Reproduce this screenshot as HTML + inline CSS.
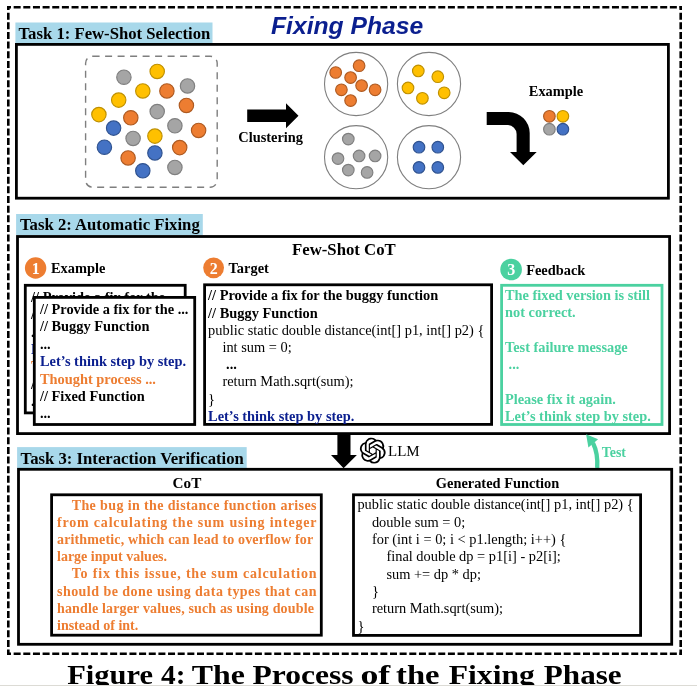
<!DOCTYPE html>
<html><head><meta charset="utf-8"><style>
html,body{margin:0;padding:0;background:#fff;width:697px;height:686px;overflow:hidden;}
svg{display:block;will-change:transform;}
</style></head><body>
<svg width="697" height="686" viewBox="0 0 697 686">
<rect width="697" height="686" fill="#fff"/>
<line x1="7" y1="7.3" x2="682" y2="7.3" stroke="#000" stroke-width="2.6" stroke-dasharray="7 2.65" stroke-dashoffset="3"/>
<line x1="7" y1="653.7" x2="682" y2="653.7" stroke="#000" stroke-width="2.6" stroke-dasharray="7 2.65" stroke-dashoffset="3"/>
<line x1="8.3" y1="6" x2="8.3" y2="655" stroke="#000" stroke-width="2.6" stroke-dasharray="7 2.65" stroke-dashoffset="3"/>
<line x1="680.7" y1="6" x2="680.7" y2="655" stroke="#000" stroke-width="2.6" stroke-dasharray="7 2.65" stroke-dashoffset="3"/>
<text x="271" y="33.8" font-family="'Liberation Sans', sans-serif" font-size="24.7" font-weight="bold" fill="#0b1f8f" font-style="italic" xml:space="preserve">Fixing Phase</text>
<rect x="15.4" y="22.5" width="197.1" height="20.8" fill="#a8d8ea"/>
<text x="18.5" y="38.5" font-family="'Liberation Serif', serif" font-size="16.7" font-weight="bold" fill="#000"  xml:space="preserve">Task 1: Few-Shot Selection</text>
<rect x="16.40" y="44.40" width="652.00" height="153.80" fill="none" stroke="#000" stroke-width="2.8" />
<rect x="85.6" y="56.2" width="131.6" height="131" rx="7" fill="none" stroke="#7f7f7f" stroke-width="1.4" stroke-dasharray="7 5.5"/>
<circle cx="123.9" cy="77.2" r="7.2" fill="#a5a5a5" stroke="#7f7f7f" stroke-width="1.15"/>
<circle cx="187.5" cy="85.9" r="7.2" fill="#a5a5a5" stroke="#7f7f7f" stroke-width="1.15"/>
<circle cx="157.2" cy="111.6" r="7.2" fill="#a5a5a5" stroke="#7f7f7f" stroke-width="1.15"/>
<circle cx="174.9" cy="125.8" r="7.2" fill="#a5a5a5" stroke="#7f7f7f" stroke-width="1.15"/>
<circle cx="133.1" cy="138.4" r="7.2" fill="#a5a5a5" stroke="#7f7f7f" stroke-width="1.15"/>
<circle cx="174.9" cy="167.4" r="7.2" fill="#a5a5a5" stroke="#7f7f7f" stroke-width="1.15"/>
<circle cx="157.2" cy="71.4" r="7.2" fill="#ffc000" stroke="#bf9000" stroke-width="1.15"/>
<circle cx="142.8" cy="90.9" r="7.2" fill="#ffc000" stroke="#bf9000" stroke-width="1.15"/>
<circle cx="118.7" cy="100.1" r="7.2" fill="#ffc000" stroke="#bf9000" stroke-width="1.15"/>
<circle cx="98.9" cy="114.6" r="7.2" fill="#ffc000" stroke="#bf9000" stroke-width="1.15"/>
<circle cx="154.9" cy="136.1" r="7.2" fill="#ffc000" stroke="#bf9000" stroke-width="1.15"/>
<circle cx="166.9" cy="90.9" r="7.2" fill="#ed7d31" stroke="#ae5a21" stroke-width="1.15"/>
<circle cx="186.4" cy="105.4" r="7.2" fill="#ed7d31" stroke="#ae5a21" stroke-width="1.15"/>
<circle cx="130.8" cy="117.8" r="7.2" fill="#ed7d31" stroke="#ae5a21" stroke-width="1.15"/>
<circle cx="198.6" cy="130.4" r="7.2" fill="#ed7d31" stroke="#ae5a21" stroke-width="1.15"/>
<circle cx="179.7" cy="147.6" r="7.2" fill="#ed7d31" stroke="#ae5a21" stroke-width="1.15"/>
<circle cx="128.1" cy="157.9" r="7.2" fill="#ed7d31" stroke="#ae5a21" stroke-width="1.15"/>
<circle cx="113.6" cy="128.1" r="7.2" fill="#4472c4" stroke="#2f528f" stroke-width="1.15"/>
<circle cx="104.4" cy="147.2" r="7.2" fill="#4472c4" stroke="#2f528f" stroke-width="1.15"/>
<circle cx="154.9" cy="152.9" r="7.2" fill="#4472c4" stroke="#2f528f" stroke-width="1.15"/>
<circle cx="142.8" cy="170.8" r="7.2" fill="#4472c4" stroke="#2f528f" stroke-width="1.15"/>
<polygon points="247.2,109.4 286,109.4 286,103.2 298.5,115.7 286,128.3 286,121.9 247.2,121.9" fill="#000"/>
<text x="238.3" y="142.4" font-family="'Liberation Serif', serif" font-size="14.4" font-weight="bold" fill="#000"  xml:space="preserve">Clustering</text>
<circle cx="356.1" cy="84" r="31.6" fill="#fff" stroke="#7f7f7f" stroke-width="1.1"/>
<circle cx="429" cy="84" r="31.6" fill="#fff" stroke="#7f7f7f" stroke-width="1.1"/>
<circle cx="356.1" cy="157.2" r="31.6" fill="#fff" stroke="#7f7f7f" stroke-width="1.1"/>
<circle cx="429" cy="157.2" r="31.6" fill="#fff" stroke="#7f7f7f" stroke-width="1.1"/>
<circle cx="335.7" cy="72.5" r="5.8" fill="#ed7d31" stroke="#ae5a21" stroke-width="1.15"/>
<circle cx="359.1" cy="65.7" r="5.8" fill="#ed7d31" stroke="#ae5a21" stroke-width="1.15"/>
<circle cx="350.6" cy="77.6" r="5.8" fill="#ed7d31" stroke="#ae5a21" stroke-width="1.15"/>
<circle cx="341.4" cy="89.8" r="5.8" fill="#ed7d31" stroke="#ae5a21" stroke-width="1.15"/>
<circle cx="361.6" cy="85.6" r="5.8" fill="#ed7d31" stroke="#ae5a21" stroke-width="1.15"/>
<circle cx="375.1" cy="89.8" r="5.8" fill="#ed7d31" stroke="#ae5a21" stroke-width="1.15"/>
<circle cx="350.6" cy="100.6" r="5.8" fill="#ed7d31" stroke="#ae5a21" stroke-width="1.15"/>
<circle cx="418.3" cy="70.9" r="5.8" fill="#ffc000" stroke="#bf9000" stroke-width="1.15"/>
<circle cx="437.8" cy="76.7" r="5.8" fill="#ffc000" stroke="#bf9000" stroke-width="1.15"/>
<circle cx="408" cy="87.9" r="5.8" fill="#ffc000" stroke="#bf9000" stroke-width="1.15"/>
<circle cx="444.2" cy="92.8" r="5.8" fill="#ffc000" stroke="#bf9000" stroke-width="1.15"/>
<circle cx="422.4" cy="98.3" r="5.8" fill="#ffc000" stroke="#bf9000" stroke-width="1.15"/>
<circle cx="348.3" cy="139.1" r="5.8" fill="#a5a5a5" stroke="#7f7f7f" stroke-width="1.15"/>
<circle cx="338" cy="158.6" r="5.8" fill="#a5a5a5" stroke="#7f7f7f" stroke-width="1.15"/>
<circle cx="359.1" cy="155.9" r="5.8" fill="#a5a5a5" stroke="#7f7f7f" stroke-width="1.15"/>
<circle cx="375.1" cy="155.9" r="5.8" fill="#a5a5a5" stroke="#7f7f7f" stroke-width="1.15"/>
<circle cx="348.3" cy="170.1" r="5.8" fill="#a5a5a5" stroke="#7f7f7f" stroke-width="1.15"/>
<circle cx="367.1" cy="172.4" r="5.8" fill="#a5a5a5" stroke="#7f7f7f" stroke-width="1.15"/>
<circle cx="419" cy="147.2" r="5.8" fill="#4472c4" stroke="#2f528f" stroke-width="1.15"/>
<circle cx="437.8" cy="147.2" r="5.8" fill="#4472c4" stroke="#2f528f" stroke-width="1.15"/>
<circle cx="419" cy="167.4" r="5.8" fill="#4472c4" stroke="#2f528f" stroke-width="1.15"/>
<circle cx="437.8" cy="167.4" r="5.8" fill="#4472c4" stroke="#2f528f" stroke-width="1.15"/>
<path d="M486.7,112.1 L508.7,112.1 A21,21 0 0 1 529.7,133.1 L529.7,152.1 L536.7,152.1 L523.3,165.3 L510,152.1 L516.6,152.1 L516.6,134 A9,9 0 0 0 507.6,125 L486.7,125 Z" fill="#000"/>
<text x="528.8" y="96" font-family="'Liberation Serif', serif" font-size="14.4" font-weight="bold" fill="#000"  xml:space="preserve">Example</text>
<circle cx="549.4" cy="116.3" r="5.8" fill="#ed7d31" stroke="#ae5a21" stroke-width="1.15"/>
<circle cx="562.9" cy="116.3" r="5.8" fill="#ffc000" stroke="#bf9000" stroke-width="1.15"/>
<circle cx="549.4" cy="129.2" r="5.8" fill="#a5a5a5" stroke="#7f7f7f" stroke-width="1.15"/>
<circle cx="562.9" cy="129.2" r="5.8" fill="#4472c4" stroke="#2f528f" stroke-width="1.15"/>
<rect x="16.1" y="214" width="186.7" height="21.2" fill="#a8d8ea"/>
<text x="20" y="230.3" font-family="'Liberation Serif', serif" font-size="16.7" font-weight="bold" fill="#000"  xml:space="preserve">Task 2: Automatic Fixing</text>
<rect x="17.50" y="236.50" width="652.10" height="197.10" fill="none" stroke="#000" stroke-width="2.8" />
<text x="292" y="255.4" font-family="'Liberation Serif', serif" font-size="16.75" font-weight="bold" fill="#000"  xml:space="preserve">Few-Shot CoT</text>
<circle cx="35.6" cy="268" r="10.7" fill="#ed7d31"/>
<text x="35.800000000000004" y="273.7" text-anchor="middle" font-family="'Liberation Serif', serif" font-size="16" font-weight="bold" fill="#fff">1</text>
<text x="51" y="273" font-family="'Liberation Serif', serif" font-size="14.4" font-weight="bold" fill="#000"  xml:space="preserve">Example</text>
<circle cx="213.6" cy="267.8" r="10.4" fill="#ed7d31"/>
<text x="213.79999999999998" y="273.5" text-anchor="middle" font-family="'Liberation Serif', serif" font-size="16" font-weight="bold" fill="#fff">2</text>
<text x="228.6" y="272.6" font-family="'Liberation Serif', serif" font-size="14.4" font-weight="bold" fill="#000"  xml:space="preserve">Target</text>
<circle cx="511.1" cy="269.5" r="10.8" fill="#4bd1a0"/>
<text x="511.3" y="275.2" text-anchor="middle" font-family="'Liberation Serif', serif" font-size="16" font-weight="bold" fill="#fff">3</text>
<text x="526.2" y="274.5" font-family="'Liberation Serif', serif" font-size="14.4" font-weight="bold" fill="#000"  xml:space="preserve">Feedback</text>
<rect x="25.30" y="285.30" width="159.90" height="127.60" fill="#fff" stroke="#000" stroke-width="2.8" />
<defs><clipPath id="cb"><rect x="26.5" y="286.5" width="157.5" height="125.2"/></clipPath></defs>
<g clip-path="url(#cb)">
<text x="31.1" y="302.0" font-family="'Liberation Serif', serif" font-size="14.4" font-weight="bold" fill="#000"  xml:space="preserve">// Provide a fix for the ...</text>
<text x="31.1" y="319.35" font-family="'Liberation Serif', serif" font-size="14.4" font-weight="bold" fill="#000"  xml:space="preserve">// Buggy Function</text>
<text x="31.1" y="336.7" font-family="'Liberation Serif', serif" font-size="14.4" font-weight="bold" fill="#000"  xml:space="preserve">...</text>
<text x="31.1" y="354.05" font-family="'Liberation Serif', serif" font-size="14.4" font-weight="bold" fill="#0b1f8f"  xml:space="preserve">Let’s think step by step.</text>
<text x="31.1" y="371.4" font-family="'Liberation Serif', serif" font-size="14.4" font-weight="bold" fill="#ed7d31"  xml:space="preserve">Thought process ...</text>
<text x="31.1" y="388.75" font-family="'Liberation Serif', serif" font-size="14.4" font-weight="bold" fill="#000"  xml:space="preserve">// Fixed Function</text>
<text x="31.1" y="406.1" font-family="'Liberation Serif', serif" font-size="14.4" font-weight="bold" fill="#000"  xml:space="preserve">...</text>
</g>
<rect x="34.30" y="297.40" width="160.40" height="127.10" fill="#fff" stroke="#000" stroke-width="2.8" />
<text x="39.9" y="314.1" font-family="'Liberation Serif', serif" font-size="14.4" font-weight="bold" fill="#000"  xml:space="preserve">// Provide a fix for the ...</text>
<text x="39.9" y="331.45000000000005" font-family="'Liberation Serif', serif" font-size="14.4" font-weight="bold" fill="#000"  xml:space="preserve">// Buggy Function</text>
<text x="39.9" y="348.8" font-family="'Liberation Serif', serif" font-size="14.4" font-weight="bold" fill="#000"  xml:space="preserve">...</text>
<text x="39.9" y="366.15000000000003" font-family="'Liberation Serif', serif" font-size="14.4" font-weight="bold" fill="#0b1f8f"  xml:space="preserve">Let’s think step by step.</text>
<text x="39.9" y="383.5" font-family="'Liberation Serif', serif" font-size="14.4" font-weight="bold" fill="#ed7d31"  xml:space="preserve">Thought process ...</text>
<text x="39.9" y="400.85" font-family="'Liberation Serif', serif" font-size="14.4" font-weight="bold" fill="#000"  xml:space="preserve">// Fixed Function</text>
<text x="39.9" y="418.20000000000005" font-family="'Liberation Serif', serif" font-size="14.4" font-weight="bold" fill="#000"  xml:space="preserve">...</text>
<rect x="204.60" y="284.80" width="287.00" height="139.60" fill="none" stroke="#000" stroke-width="2.8" />
<text x="208.1" y="300.3" font-family="'Liberation Serif', serif" font-size="14.4" font-weight="bold" fill="#000"  xml:space="preserve">// Provide a fix for the buggy function</text>
<text x="208.1" y="317.5" font-family="'Liberation Serif', serif" font-size="14.4" font-weight="bold" fill="#000"  xml:space="preserve">// Buggy Function</text>
<text x="208.1" y="334.7" font-family="'Liberation Serif', serif" font-size="14.4" font-weight="normal" fill="#000"  xml:space="preserve">public static double distance(int[] p1, int[] p2) {</text>
<text x="222.4" y="351.9" font-family="'Liberation Serif', serif" font-size="14.4" font-weight="normal" fill="#000"  xml:space="preserve">int sum = 0;</text>
<text x="226.118" y="369.1" font-family="'Liberation Serif', serif" font-size="14.4" font-weight="bold" fill="#000"  xml:space="preserve">...</text>
<text x="222.4" y="386.3" font-family="'Liberation Serif', serif" font-size="14.4" font-weight="normal" fill="#000"  xml:space="preserve">return Math.sqrt(sum);</text>
<text x="208.1" y="403.5" font-family="'Liberation Serif', serif" font-size="14.4" font-weight="normal" fill="#000"  xml:space="preserve">}</text>
<text x="208.1" y="420.7" font-family="'Liberation Serif', serif" font-size="14.4" font-weight="bold" fill="#0b1f8f"  xml:space="preserve">Let’s think step by step.</text>
<rect x="501.60" y="285.30" width="160.40" height="139.20" fill="none" stroke="#4bd1a0" stroke-width="2.8" />
<text x="505" y="300.1" font-family="'Liberation Serif', serif" font-size="14.35" font-weight="bold" fill="#4bd1a0"  xml:space="preserve">The fixed version is still</text>
<text x="505" y="317.2" font-family="'Liberation Serif', serif" font-size="14.35" font-weight="bold" fill="#4bd1a0"  xml:space="preserve">not correct.</text>
<text x="505" y="351.5" font-family="'Liberation Serif', serif" font-size="14.35" font-weight="bold" fill="#4bd1a0"  xml:space="preserve">Test failure message</text>
<text x="505" y="369" font-family="'Liberation Serif', serif" font-size="14.35" font-weight="bold" fill="#4bd1a0"  xml:space="preserve"> ...</text>
<text x="505" y="403.5" font-family="'Liberation Serif', serif" font-size="14.35" font-weight="bold" fill="#4bd1a0"  xml:space="preserve">Please fix it again.</text>
<text x="505" y="420.7" font-family="'Liberation Serif', serif" font-size="14.35" font-weight="bold" fill="#4bd1a0"  xml:space="preserve">Let’s think step by step.</text>
<polygon points="337.4,435 350.5,435 350.5,454.9 356.9,454.9 343.6,468.2 331,454.9 337.4,454.9" fill="#000"/>
<g transform="translate(359.8,437.7) scale(1.08)"><path fill="#000" d="M22.2819 9.8211a5.9847 5.9847 0 0 0-.5157-4.9108 6.0462 6.0462 0 0 0-6.5098-2.9A6.0651 6.0651 0 0 0 4.9807 4.1818a5.9847 5.9847 0 0 0-3.9977 2.9 6.0462 6.0462 0 0 0 .7427 7.0966 5.98 5.98 0 0 0 .511 4.9107 6.051 6.051 0 0 0 6.5146 2.9001A5.9847 5.9847 0 0 0 13.2599 24a6.0557 6.0557 0 0 0 5.7718-4.2058 5.9894 5.9894 0 0 0 3.9977-2.9001 6.0557 6.0557 0 0 0-.7475-7.0729zm-9.022 12.6081a4.4755 4.4755 0 0 1-2.8764-1.0408l.1419-.0804 4.7783-2.7582a.7948.7948 0 0 0 .3927-.6813v-6.7369l2.02 1.1686a.071.071 0 0 1 .038.052v5.5826a4.504 4.504 0 0 1-4.4945 4.4944zm-9.6607-4.1254a4.4708 4.4708 0 0 1-.5346-3.0137l.142.0852 4.783 2.7582a.7712.7712 0 0 0 .7806 0l5.8428-3.3685v2.3324a.0804.0804 0 0 1-.0332.0615L9.74 19.9502a4.4992 4.4992 0 0 1-6.1408-1.6464zM2.3408 7.8956a4.485 4.485 0 0 1 2.3655-1.9728V11.6a.7664.7664 0 0 0 .3879.6765l5.8144 3.3543-2.0201 1.1685a.0757.0757 0 0 1-.071 0l-4.8303-2.7865A4.504 4.504 0 0 1 2.3408 7.872zm16.5963 3.8558L13.1038 8.364 15.1192 7.2a.0757.0757 0 0 1 .071 0l4.8303 2.7913a4.4944 4.4944 0 0 1-.6765 8.1042v-5.6772a.79.79 0 0 0-.407-.667zm2.0107-3.0231l-.142-.0852-4.7735-2.7818a.7759.7759 0 0 0-.7854 0L9.409 9.2297V6.8974a.0662.0662 0 0 1 .0284-.0615l4.8303-2.7866a4.4992 4.4992 0 0 1 6.6802 4.66zM8.3065 12.863l-2.02-1.1638a.0804.0804 0 0 1-.038-.0567V6.0742a4.4992 4.4992 0 0 1 7.3757-3.4537l-.142.0805L8.704 5.459a.7948.7948 0 0 0-.3927.6813zm1.0976-2.3654l2.602-1.4998 2.6069 1.4998v2.9994l-2.5974 1.4997-2.6067-1.4997Z"/></g>
<text x="388" y="456.3" font-family="'Liberation Serif', serif" font-size="15" font-weight="normal" fill="#000"  xml:space="preserve">LLM</text>
<path d="M597.2,468 C597.8,458 596.5,450 593,443" fill="none" stroke="#4bd1a0" stroke-width="4.3"/>
<polygon points="586.1,434.2 598.1,439.3 588.4,447.4" fill="#4bd1a0"/>
<text x="601.8" y="456.6" font-family="'Liberation Serif', serif" font-size="13.9" font-weight="bold" fill="#4bd1a0"  xml:space="preserve">Test</text>
<rect x="17.1" y="447.1" width="229.6" height="20.9" fill="#a8d8ea"/>
<text x="20.6" y="463.5" font-family="'Liberation Serif', serif" font-size="16.7" font-weight="bold" fill="#000"  xml:space="preserve">Task 3: Interaction Verification</text>
<rect x="18.50" y="469.30" width="653.20" height="175.00" fill="none" stroke="#000" stroke-width="2.8" />
<text x="172.6" y="487.8" font-family="'Liberation Serif', serif" font-size="15.2" font-weight="bold" fill="#000"  xml:space="preserve">CoT</text>
<rect x="51.60" y="494.80" width="269.70" height="140.40" fill="none" stroke="#000" stroke-width="2.8" />
<text x="71.7" y="509.6" font-family="'Liberation Serif', serif" font-size="14" font-weight="bold" fill="#ed7d31" textLength="244.8" lengthAdjust="spacing" xml:space="preserve">The bug in the distance function arises</text>
<text x="57" y="526.8000000000001" font-family="'Liberation Serif', serif" font-size="14" font-weight="bold" fill="#ed7d31" textLength="259.5" lengthAdjust="spacing" xml:space="preserve">from calculating the sum using integer</text>
<text x="57" y="544.0" font-family="'Liberation Serif', serif" font-size="14" font-weight="bold" fill="#ed7d31" textLength="256.1" lengthAdjust="spacing" xml:space="preserve">arithmetic, which can lead to overflow for</text>
<text x="57" y="561.2" font-family="'Liberation Serif', serif" font-size="14" font-weight="bold" fill="#ed7d31"  xml:space="preserve">large input values.</text>
<text x="71.7" y="578.4" font-family="'Liberation Serif', serif" font-size="14" font-weight="bold" fill="#ed7d31" textLength="244.8" lengthAdjust="spacing" xml:space="preserve">To fix this issue, the sum calculation</text>
<text x="57" y="595.6" font-family="'Liberation Serif', serif" font-size="14" font-weight="bold" fill="#ed7d31" textLength="259.5" lengthAdjust="spacing" xml:space="preserve">should be done using data types that can</text>
<text x="57" y="612.8" font-family="'Liberation Serif', serif" font-size="14" font-weight="bold" fill="#ed7d31" textLength="256.9" lengthAdjust="spacing" xml:space="preserve">handle larger values, such as using double</text>
<text x="57" y="630.0" font-family="'Liberation Serif', serif" font-size="14" font-weight="bold" fill="#ed7d31"  xml:space="preserve">instead of int.</text>
<text x="435.8" y="487.6" font-family="'Liberation Serif', serif" font-size="14.4" font-weight="bold" fill="#000"  xml:space="preserve">Generated Function</text>
<rect x="353.50" y="494.80" width="287.10" height="140.60" fill="none" stroke="#000" stroke-width="2.8" />
<text x="357.4" y="509.4" font-family="'Liberation Serif', serif" font-size="14.4" font-weight="normal" fill="#000"  xml:space="preserve">public static double distance(int[] p1, int[] p2) {</text>
<text x="371.9" y="526.6999999999999" font-family="'Liberation Serif', serif" font-size="14.4" font-weight="normal" fill="#000"  xml:space="preserve">double sum = 0;</text>
<text x="371.9" y="544.0" font-family="'Liberation Serif', serif" font-size="14.4" font-weight="normal" fill="#000"  xml:space="preserve">for (int i = 0; i &lt; p1.length; i++) {</text>
<text x="386.4" y="561.3" font-family="'Liberation Serif', serif" font-size="14.4" font-weight="normal" fill="#000"  xml:space="preserve">final double dp = p1[i] - p2[i];</text>
<text x="386.4" y="578.6" font-family="'Liberation Serif', serif" font-size="14.4" font-weight="normal" fill="#000"  xml:space="preserve">sum += dp * dp;</text>
<text x="371.9" y="595.9" font-family="'Liberation Serif', serif" font-size="14.4" font-weight="normal" fill="#000"  xml:space="preserve">}</text>
<text x="371.9" y="613.2" font-family="'Liberation Serif', serif" font-size="14.4" font-weight="normal" fill="#000"  xml:space="preserve">return Math.sqrt(sum);</text>
<text x="357.4" y="630.5" font-family="'Liberation Serif', serif" font-size="14.4" font-weight="normal" fill="#000"  xml:space="preserve">}</text>
<text x="67.2" y="684.3" font-family="'Liberation Serif', serif" font-size="26.5" font-weight="bold" fill="#000" textLength="85.88" lengthAdjust="spacingAndGlyphs" xml:space="preserve">Figure</text>
<text x="161.0" y="684.3" font-family="'Liberation Serif', serif" font-size="26.5" font-weight="bold" fill="#000" textLength="24.4" lengthAdjust="spacingAndGlyphs" xml:space="preserve">4:</text>
<text x="191.8" y="684.3" font-family="'Liberation Serif', serif" font-size="26.5" font-weight="bold" fill="#000" textLength="53.13" lengthAdjust="spacingAndGlyphs" xml:space="preserve">The</text>
<text x="252.4" y="684.3" font-family="'Liberation Serif', serif" font-size="26.5" font-weight="bold" fill="#000" textLength="101.24" lengthAdjust="spacingAndGlyphs" xml:space="preserve">Process</text>
<text x="360.45" y="684.3" font-family="'Liberation Serif', serif" font-size="26.5" font-weight="bold" fill="#000" textLength="29.86" lengthAdjust="spacingAndGlyphs" xml:space="preserve">of</text>
<text x="396.07" y="684.3" font-family="'Liberation Serif', serif" font-size="26.5" font-weight="bold" fill="#000" textLength="43.54" lengthAdjust="spacingAndGlyphs" xml:space="preserve">the</text>
<text x="448.7" y="684.3" font-family="'Liberation Serif', serif" font-size="26.5" font-weight="bold" fill="#000" textLength="86.19" lengthAdjust="spacingAndGlyphs" xml:space="preserve">Fixing</text>
<text x="543.8" y="684.3" font-family="'Liberation Serif', serif" font-size="26.5" font-weight="bold" fill="#000" textLength="77.89" lengthAdjust="spacingAndGlyphs" xml:space="preserve">Phase</text>
<rect x="0" y="685" width="697" height="1" fill="#dcdbd5"/>
</svg>
</body></html>
